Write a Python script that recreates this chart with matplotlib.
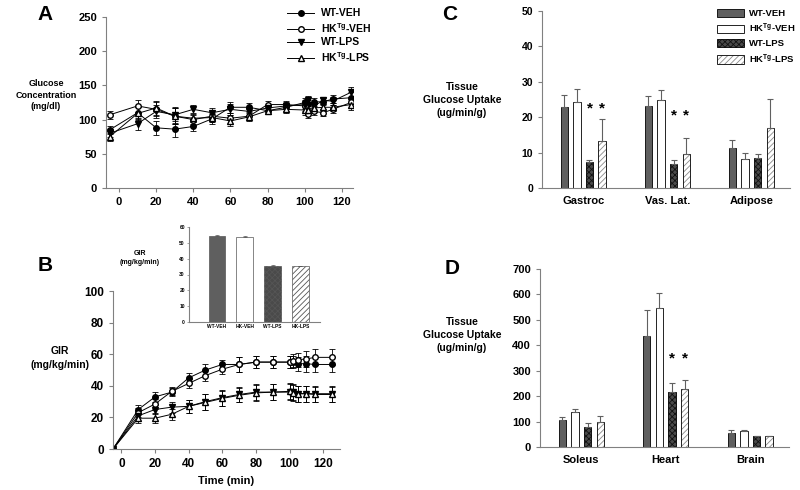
import matplotlib
matplotlib.use('Agg')
import matplotlib.pyplot as plt

plt.rcParams['font.family'] = ['Liberation Sans', 'DejaVu Sans']
plt.rcParams['font.weight'] = 'bold'
plt.rcParams['mathtext.fontset'] = 'custom'
plt.rcParams['mathtext.bf'] = 'Liberation Sans:bold'
plt.rcParams['mathtext.rm'] = 'Liberation Sans:bold'
plt.rcParams['mathtext.default'] = 'bf'
plt.rcParams['hatch.linewidth'] = 0.6

# time points (min)
time = [-5, 10, 20, 30, 40, 50, 60, 70, 80, 90, 100, 102, 105, 110, 115, 125]
groups = ['WT-VEH', r'HK$^{Tg}$-VEH', 'WT-LPS', r'HK$^{Tg}$-LPS']

# panel A: glucose concentration (mg/dl)
glu_wt_veh = [85, 110, 88, 86, 90, 101, 118, 118, 113, 118, 125, 123, 126, 126, 130, 132]
glu_hk_veh = [107, 120, 115, 105, 100, 105, 102, 105, 122, 122, 120, 108, 112, 110, 115, 125]
glu_wt_lps = [80, 94, 112, 107, 115, 110, 115, 112, 117, 120, 122, 128, 120, 128, 127, 140]
glu_hk_lps = [75, 109, 117, 105, 102, 103, 98, 104, 113, 115, 114, 114, 117, 118, 118, 122]
glu_err = [6, 9, 10, 12, 6, 7, 8, 6, 5, 5, 7, 6, 6, 5, 6, 8]

# panel B: glucose infusion rate (mg/kg/min)
gir_wt_veh = [0, 25, 33, 36, 45, 50, 53.5, 53.5, 55, 55, 55, 55, 54, 54, 53.5, 53.5]
gir_hk_veh = [0, 23, 28.5, 36.5, 41.5, 46.5, 50.5, 53.5, 55, 55, 55, 56, 56.5, 57, 58, 58]
gir_wt_lps = [0, 21, 25, 26.5, 27, 30, 32.5, 34.5, 36, 36, 36, 36, 35, 35, 35, 35]
gir_hk_lps = [0, 19.5, 19.5, 22, 27, 29.5, 32, 34, 35.5, 36, 36.5, 35.5, 35, 35, 34.5, 34.5]
gir_err_veh = [0, 3, 3, 2.5, 3, 3.5, 3, 4.5, 4, 4, 4, 4, 4.5, 5, 5, 5]
gir_err_lps = [0, 3, 3, 3.5, 4, 5, 5, 4.5, 5, 5, 5, 5, 5, 5, 5, 5]

# inset: steady-state GIR
inset_labels = ['WT-VEH', 'HK-VEH', 'WT-LPS', 'HK-LPS']
inset_vals = [54.5, 54, 35.5, 35.3]
inset_err = [0.4, 0.4, 0.3, 0.3]

# panel C: tissue glucose uptake (ug/min/g)
tissues_c = ['Gastroc', 'Vas. Lat.', 'Adipose']
c_vals = [[23, 23.3, 11.3], [24.2, 24.8, 8.3], [7.3, 6.9, 8.4], [13.3, 9.6, 17]]
c_err = [[3.2, 2.7, 2.4], [3.8, 3, 1.7], [0.7, 0.9, 1.2], [6.1, 4.6, 8]]

# panel D
tissues_d = ['Soleus', 'Heart', 'Brain']
d_vals = [[108, 436, 57], [137, 548, 62], [80, 217, 42], [100, 230, 42]]
d_err = [[10, 101, 11], [13, 58, 6], [15, 33, 2], [23, 35, 3]]

W, H = 800, 490
fig = plt.figure(figsize=(8, 4.9), dpi=100)


def px_axes(l, t, r, b):
    return fig.add_axes([l / W, 1 - b / H, (r - l) / W, (b - t) / H])


def style(ax, size=7.5):
    for s in ['top', 'right']:
        ax.spines[s].set_visible(False)
    for s in ['left', 'bottom']:
        ax.spines[s].set_color('#808080')
        ax.spines[s].set_linewidth(0.8)
    ax.tick_params(colors='#808080', labelcolor='black', labelsize=size, width=0.8, length=3)
    for lab in ax.get_xticklabels() + ax.get_yticklabels():
        lab.set_fontweight('bold')


line_styles = [
    dict(marker='o', mfc='black'),
    dict(marker='o', mfc='white'),
    dict(marker='v', mfc='black'),
    dict(marker='^', mfc='white'),
]


def draw_lines(ax, series, errs):
    for y, e, st in zip(series, errs, line_styles):
        ax.errorbar(time, y, yerr=e, color='black', mec='black', ms=4, lw=0.7,
                    elinewidth=0.6, capsize=2.5, capthick=0.6, marker=st['marker'],
                    mfc=st['mfc'])


# ---- panel A
axA = px_axes(106, 17, 353, 188)
draw_lines(axA, [glu_wt_veh, glu_hk_veh, glu_wt_lps, glu_hk_lps], [glu_err] * 4)
axA.set_xlim(-7, 126)
axA.set_ylim(0, 250)
axA.set_xticks([0, 20, 40, 60, 80, 100, 120])
style(axA, 8)
handles = [plt.Line2D([], [], color='black', lw=0.7, marker=st['marker'], mfc=st['mfc'],
                      mec='black', ms=4) for st in line_styles]
axA.legend(handles, groups, loc='upper left', bbox_to_anchor=(282 / W, 1 - 3 / H),
           bbox_transform=fig.transFigure, frameon=False, fontsize=7.5,
           handlelength=2.6, handletextpad=0.6, labelspacing=0.25, borderpad=0)
fig.text(46 / W, 1 - 95 / H, 'Glucose\nConcentration\n(mg/dl)', ha='center', va='center',
         fontsize=6.5, fontweight='bold', linespacing=1.4)
fig.text(45 / W, 1 - 14 / H, 'A', ha='center', va='center', fontsize=15, fontweight='bold')

# ---- panel B
axB = px_axes(113, 291, 340, 449)
draw_lines(axB, [gir_wt_veh, gir_hk_veh, gir_wt_lps, gir_hk_lps],
           [gir_err_veh, gir_err_veh, gir_err_lps, gir_err_lps])
axB.set_xlim(-5, 130)
axB.set_ylim(0, 100)
axB.set_xticks([0, 20, 40, 60, 80, 100, 120])
axB.set_xlabel('Time (min)', fontsize=8, fontweight='bold', labelpad=4)
style(axB, 8.5)
fig.text(60 / W, 1 - 358 / H, 'GIR\n(mg/kg/min)', ha='center', va='center',
         fontsize=7.5, fontweight='bold', linespacing=1.4)
fig.text(45 / W, 1 - 265 / H, 'B', ha='center', va='center', fontsize=15, fontweight='bold')

# ---- inset
bar_face = ['#5f5f5f', 'white', '#4a4a4a', 'white']
bar_hatch = [None, None, 'xxxxxx', '//////']
hatch_col = ['black', 'black', '#111111', '#8a8a8a']

axI = px_axes(189, 227, 320, 322)
for i in range(4):
    axI.bar(i, inset_vals[i], width=0.6, color=bar_face[i], edgecolor='#555555',
            hatch=bar_hatch[i], lw=0.5)
    axI.errorbar(i, inset_vals[i], yerr=[[0], [inset_err[i]]], color='#555555',
                 capsize=1.5, elinewidth=0.5, capthick=0.5)
axI.set_xlim(-1, 3.7)
axI.set_ylim(0, 60)
axI.set_xticks(range(4))
axI.set_xticklabels(inset_labels)
style(axI, size=3.5)
axI.tick_params(length=1.5, width=0.5, pad=1.5)
axI.tick_params(axis='x', length=0)
fig.text(140 / W, 1 - 258 / H, 'GIR\n(mg/kg/min)', ha='center', va='center',
         fontsize=5, fontweight='bold', linespacing=1.3)


# ---- bar panels
def draw_bars(ax, vals, errs):
    pitch, width = 0.15, 0.087
    for i in range(4):
        xs = [k + (i - 1.5) * pitch for k in range(3)]
        bars = ax.bar(xs, vals[i], width=width, color=bar_face[i], edgecolor='black',
                      lw=0.6, hatch=bar_hatch[i], label=groups[i])
        for b in bars:
            b._hatch_color = matplotlib.colors.to_rgba(hatch_col[i])
        ax.errorbar(xs, vals[i], yerr=[[0] * 3, errs[i]], fmt='none', ecolor='#606060',
                    elinewidth=0.8, capsize=2.5, capthick=0.8)
    ax.set_xlim(-0.49, 2.46)
    ax.set_xticks(range(3))


axC = px_axes(542, 11, 790, 188)
draw_bars(axC, c_vals, c_err)
axC.set_ylim(0, 50)
axC.set_xticklabels(tissues_c)
style(axC)
axC.tick_params(axis='x', length=0, pad=6, labelsize=8)
for k, ys in [(0, 22.4), (1, 20.4)]:
    for i in (2, 3):
        axC.text(k + (i - 1.5) * 0.15, ys, '*', ha='center', va='center', fontsize=11)
axC.legend(loc='upper left', bbox_to_anchor=(712 / W, 1 - 4 / H),
           bbox_transform=fig.transFigure, frameon=False, fontsize=6.8,
           handlelength=2.9, handleheight=1.0, handletextpad=0.5,
           labelspacing=0.4, borderpad=0)
fig.text(462 / W, 1 - 100 / H, 'Tissue\nGlucose Uptake\n(ug/min/g)', ha='center', va='center',
         fontsize=7.5, fontweight='bold', linespacing=1.4)
fig.text(450 / W, 1 - 15 / H, 'C', ha='center', va='center', fontsize=15, fontweight='bold')

axD = px_axes(540, 269, 789, 447)
draw_bars(axD, d_vals, d_err)
axD.set_ylim(0, 700)
axD.set_xticklabels(tissues_d)
style(axD, 8)
axD.tick_params(axis='x', length=0, pad=6, labelsize=8)
for i in (2, 3):
    axD.text(1 + (i - 1.5) * 0.15, 350, '*', ha='center', va='center', fontsize=11)
fig.text(462 / W, 1 - 335 / H, 'Tissue\nGlucose Uptake\n(ug/min/g)', ha='center', va='center',
         fontsize=7.5, fontweight='bold', linespacing=1.4)
fig.text(452 / W, 1 - 268 / H, 'D', ha='center', va='center', fontsize=15, fontweight='bold')

fig.savefig('out.png', dpi=100)
